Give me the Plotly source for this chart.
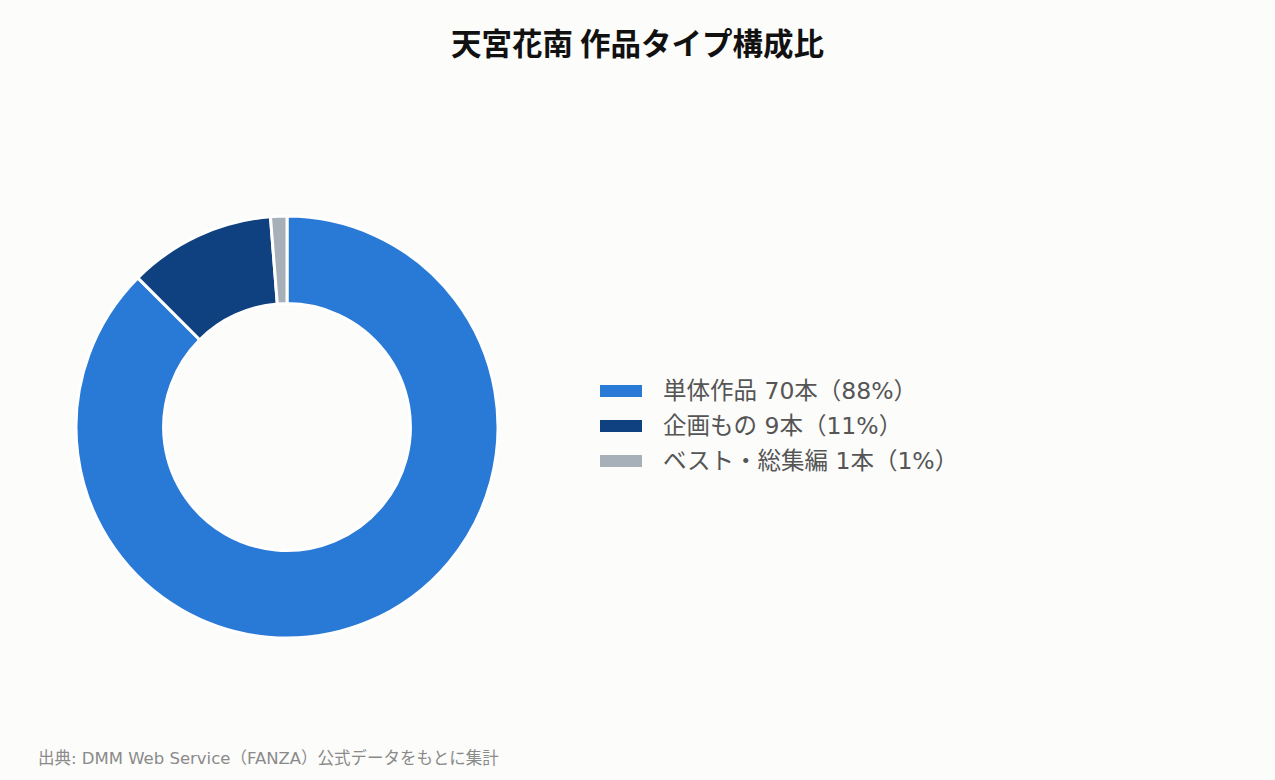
import plotly.graph_objects as go

# データ
categories = ["単体作品", "企画もの", "ベスト・総集編"]
counts = [70, 9, 1]
shares = [88, 11, 1]
colors = ["#2979d6", "#0f4080", "#a7afb9"]

title_text = "<b>天宮花南 作品タイプ構成比</b>"
source_text = "出典: DMM Web Service（FANZA）公式データをもとに集計"

BG = "#fcfcfb"
FONT = "DejaVu Sans, Noto Sans CJK JP, sans-serif"

W, H = 1275, 780

labels = [f"{c} {n}本（{s}%）" for c, n, s in zip(categories, counts, shares)]

fig = go.Figure(
    go.Pie(
        labels=labels,
        values=counts,
        hole=0.585,
        sort=False,
        direction="clockwise",
        rotation=0,
        textinfo="none",
        showlegend=False,
        marker=dict(colors=colors, line=dict(color="white", width=3)),
        domain=dict(x=[0.0596, 0.3906], y=[0.182, 0.723]),
    )
)

# 凡例 (横長の色見本 + テキスト)
leg_x0, leg_y0, row_h = 600, 391, 35
shapes, annots = [], []
for i, (lab, col) in enumerate(zip(labels, colors)):
    yc = leg_y0 + i * row_h
    shapes.append(
        dict(
            type="rect",
            xref="paper", yref="paper",
            x0=leg_x0 / W, x1=(leg_x0 + 42) / W,
            y0=1 - (yc + 6) / H, y1=1 - (yc - 6) / H,
            fillcolor=col, line=dict(width=0),
        )
    )
    annots.append(
        dict(
            text=lab,
            xref="paper", yref="paper",
            x=(leg_x0 + 61) / W, y=1 - yc / H,
            xanchor="left", yanchor="middle",
            showarrow=False,
            font=dict(size=23.5, color="#555555"),
        )
    )

annots.append(
    dict(
        text=source_text,
        xref="paper", yref="paper",
        x=36 / W, y=1 - 758 / H,
        xanchor="left", yanchor="middle",
        showarrow=False,
        font=dict(size=16.5, color="#8a8a8a"),
    )
)

fig.update_layout(
    width=W,
    height=H,
    paper_bgcolor=BG,
    plot_bgcolor=BG,
    font=dict(family=FONT, color="#555555"),
    title=dict(
        text=title_text,
        x=0.5,
        xanchor="center",
        y=1 - 44 / H,
        yanchor="middle",
        font=dict(size=30.5, color="#111111", family="Noto Sans CJK JP, sans-serif"),
    ),
    margin=dict(l=0, r=0, t=0, b=0),
    shapes=shapes,
    annotations=annots,
)

fig.write_html(
    "out.html",
    config={"responsive": False, "displayModeBar": False},
    post_script="document.body.style.margin='0';document.body.style.background='#fcfcfb';",
)
